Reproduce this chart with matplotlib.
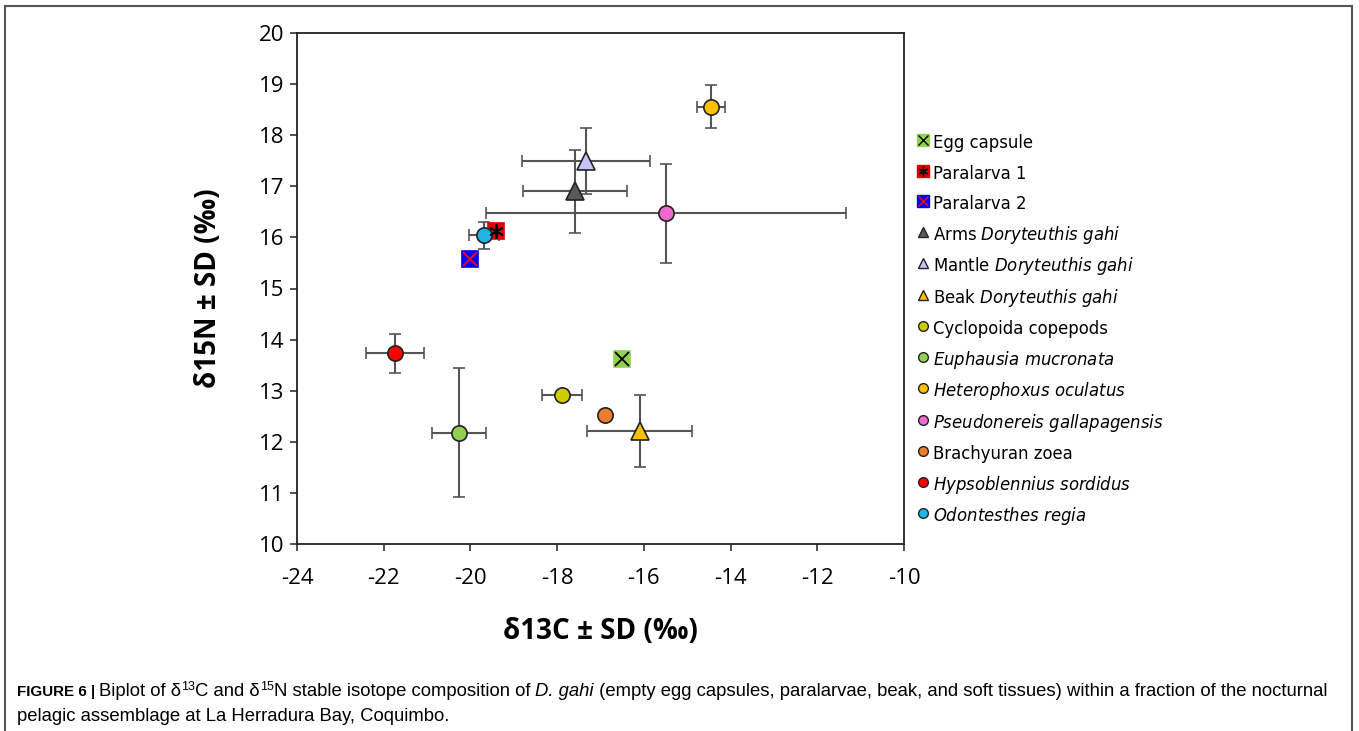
import matplotlib
matplotlib.use("Agg")
import matplotlib.pyplot as plt
from matplotlib.lines import Line2D
from matplotlib.patches import Rectangle
from matplotlib.legend_handler import HandlerTuple

plt.rcParams['font.family'] = ['Open Sans', 'DejaVu Sans']
plt.rcParams['mathtext.fontset'] = 'dejavusans'
plt.rcParams['axes.unicode_minus'] = False

# values
groups = ['Egg capsule', 'Paralarva 1', 'Paralarva 2',
          r'Arms $\mathit{Doryteuthis\ gahi}$',
          r'Mantle $\mathit{Doryteuthis\ gahi}$',
          r'Beak $\mathit{Doryteuthis\ gahi}$',
          'Cyclopoida copepods',
          r'$\mathit{Euphausia\ mucronata}$',
          r'$\mathit{Heterophoxus\ oculatus}$',
          r'$\mathit{Pseudonereis\ gallapagensis}$',
          'Brachyuran zoea',
          r'$\mathit{Hypsoblennius\ sordidus}$',
          r'$\mathit{Odontesthes\ regia}$']
d13c = [-16.50, -19.41, -20.01, -17.59, -17.33, -16.09, -17.89,
        -20.26, -14.45, -15.49, -16.90, -21.74, -19.69]
d15n = [13.62, 16.13, 15.58, 16.90, 17.50, 12.21, 12.92,
        12.18, 18.56, 16.47, 12.52, 13.73, 16.04]
sd13c = [0, 0, 0, 1.20, 1.48, 1.21, 0.47, 0.63, 0.33, 4.15, 0, 0.66, 0.34]
sd15n = [0, 0, 0, 0.82, 0.65, 0.70, 0, 1.26, 0.42, 0.97, 0, 0.38, 0.27]

x_ticks = [-24, -22, -20, -18, -16, -14, -12, -10]
y_ticks = [10, 11, 12, 13, 14, 15, 16, 17, 18, 19, 20]

# marker style per group: (shape, face colour, overlay, overlay colour)
styles = [('s', '#92D050', 'x', 'black'),
          ('s', '#E00000', (6, 2, 0), 'black'),
          ('s', '#0000FF', 'x', '#FF0000'),
          ('^', '#595959', None, None),
          ('^', '#C5C5F8', None, None),
          ('^', '#FFC000', None, None),
          ('o', '#CCCC00', None, None),
          ('o', '#92D050', None, None),
          ('o', '#FFC000', None, None),
          ('o', '#F06ACD', None, None),
          ('o', '#ED7D31', None, None),
          ('o', '#FF0000', None, None),
          ('o', '#1FB4E6', None, None)]

fig = plt.figure(figsize=(13.59, 7.31), dpi=100)
ax = fig.add_axes([297 / 1359, 1 - 544 / 731, 607 / 1359, 511 / 731])

handles = []
for i, name in enumerate(groups):
    shape, fc, over, oc = styles[i]
    if sd13c[i] > 0:
        ax.errorbar(d13c[i], d15n[i], xerr=sd13c[i], fmt='none',
                    ecolor='#555555', elinewidth=1.5, capsize=4, capthick=1.2, zorder=2)
    if sd15n[i] > 0:
        ax.errorbar(d13c[i], d15n[i], yerr=sd15n[i], fmt='none',
                    ecolor='#555555', elinewidth=1.5, capsize=4, capthick=1.2, zorder=2)
    ms = 12 if shape == 's' else (12.5 if shape == '^' else 11)
    mec = '#222222' if shape != 's' else fc
    ax.plot(d13c[i], d15n[i], marker=shape, ms=ms, mfc=fc, mec=mec,
            mew=1.2, ls='none', zorder=3)
    h = Line2D([], [], marker=shape, ms=7 if shape != 's' else 8, mfc=fc,
               mec=mec, mew=1, ls='none')
    if over is not None:
        ax.plot(d13c[i], d15n[i], marker=over, ms=ms - 1.5, mec=oc, mew=1.3,
                ls='none', zorder=4)
        h2 = Line2D([], [], marker=over, ms=7, mec=oc, mew=1, ls='none')
        handles.append((h, h2))
    else:
        handles.append(h)

ax.set_xlim(-24, -10)
ax.set_ylim(10, 20)
ax.set_xticks(x_ticks)
ax.set_yticks(y_ticks)
ax.tick_params(axis='both', labelsize=16, length=5, width=1.2, color='#333333')
ax.tick_params(axis='x', pad=12)
ax.tick_params(axis='y', pad=4)
for sp in ax.spines.values():
    sp.set_linewidth(1.3)
    sp.set_color('#222222')

ax.set_xlabel('δ13C ± SD (‰)', fontsize=20, fontweight='bold')
ax.set_ylabel('δ15N ± SD (‰)', fontsize=20, fontweight='bold')
ax.xaxis.set_label_coords(0.5, -0.143)
ax.yaxis.set_label_coords(-0.122, 0.5)

leg = fig.legend(handles, groups, loc='upper left',
                 bbox_to_anchor=(918 / 1359, 1 - 132 / 731),
                 frameon=False, handlelength=0.6, handletextpad=0.3,
                 handleheight=1.6, labelspacing=0.57,
                 borderaxespad=0, borderpad=0,
                 prop={'family': 'DejaVu Sans', 'size': 11.9},
                 handler_map={tuple: HandlerTuple(ndivide=1)})

# frame around the whole figure
fig.patches.append(Rectangle((5 / 1359, -0.05), 1347 / 1359, 1.05 - 6 / 731,
                             transform=fig.transFigure, fill=False,
                             edgecolor='#555555', linewidth=1.5))

# caption built from pieces so bold / italic / superscripts can mix
cap_font = 'Liberation Sans'
cap_size = 13.3
line1 = [('FIGURE 6 | ', 'bold', 'normal', False),
         ('Biplot of δ', 'normal', 'normal', False),
         ('13', 'normal', 'normal', True),
         ('C and δ', 'normal', 'normal', False),
         ('15', 'normal', 'normal', True),
         ('N stable isotope composition of ', 'normal', 'normal', False),
         ('D. gahi', 'normal', 'italic', False),
         (' (empty egg capsules, paralarvae, beak, and soft tissues) within a '
          'fraction of the nocturnal', 'normal', 'normal', False)]
line2 = [('pelagic assemblage at La Herradura Bay, Coquimbo.', 'normal', 'normal', False)]

renderer = fig.canvas.get_renderer()


def text_width(s, weight, style, size):
    t = fig.text(0, 0, s + '|', fontsize=size, family=cap_font,
                 fontweight=weight, fontstyle=style)
    w = t.get_window_extent(renderer).width
    t.remove()
    t = fig.text(0, 0, '|', fontsize=size, family=cap_font,
                 fontweight=weight, fontstyle=style)
    w -= t.get_window_extent(renderer).width
    t.remove()
    return w


def draw_line(pieces, x0, y0):
    x = x0
    for s, weight, style, sup in pieces:
        if sup:
            size = cap_size * 0.68
        elif weight == 'bold':
            size = cap_size * 0.82
        else:
            size = cap_size
        yy = y0 - 6 if sup else y0
        fig.text(x / 1359, 1 - yy / 731, s,
                 fontsize=size, family=cap_font, fontweight=weight,
                 fontstyle=style, va='baseline', ha='left')
        x += text_width(s, weight, style, size)


draw_line(line1, 17, 696)
draw_line(line2, 17, 721)

fig.savefig('out.png', dpi=100)
